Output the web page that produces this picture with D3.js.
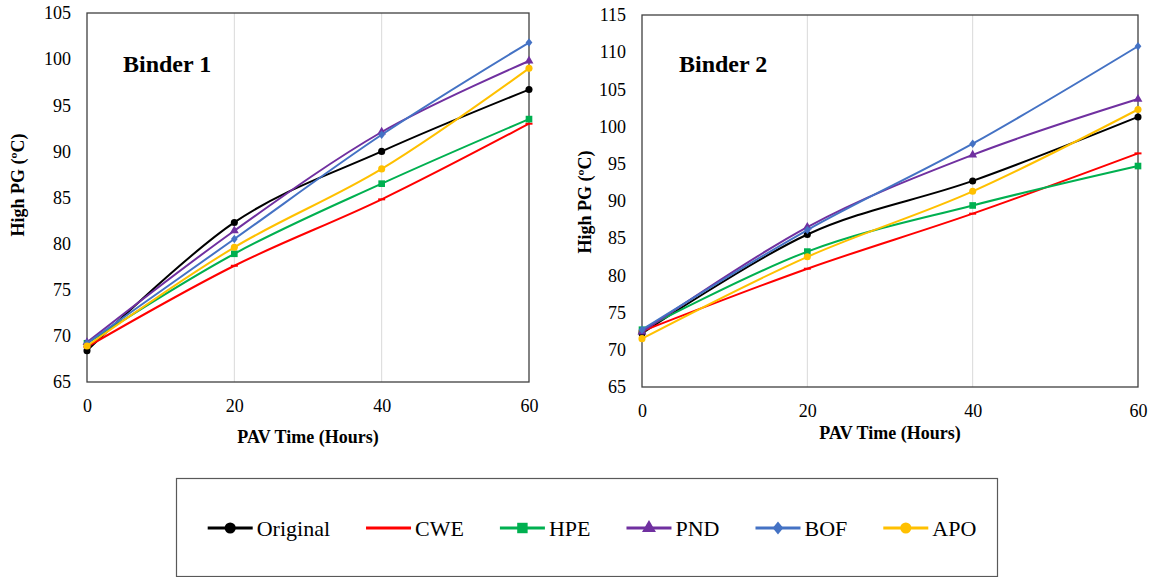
<!DOCTYPE html>
<meta charset="utf-8">
<script src="https://d3js.org/d3.v7.min.js"></script>
<style>
  body { margin: 0; background: #fff; }
</style>
<div id="my_dataviz"></div>
<script>

// data
var hours = [0, 20, 40, 60];
var seriesNames = ["Original", "CWE", "HPE", "PND", "BOF", "APO"];
var seriesColors = ["#000000", "#ff0000", "#00b050", "#7030a0", "#4472c4", "#ffc000"];
var seriesMarkers = ["circle", "dash", "square", "triangle", "diamond", "circle"];

// one row per series, in the order of seriesNames
var binder1Values = [
  [68.4, 82.3, 90.0, 96.7],
  [68.8, 77.6, 84.8, 93.0],
  [69.2, 78.9, 86.5, 93.5],
  [69.3, 81.4, 92.1, 99.8],
  [69.2, 80.5, 91.8, 101.8],
  [68.9, 79.6, 88.1, 99.0]
];
var binder2Values = [
  [72.2, 85.5, 92.7, 101.3],
  [72.5, 80.9, 88.3, 96.4],
  [72.7, 83.2, 89.4, 94.7],
  [72.4, 86.5, 96.2, 103.7],
  [72.7, 86.1, 97.7, 110.8],
  [71.5, 82.5, 91.3, 102.3]
];

var xTicks = [0, 20, 40, 60];
var binder1YTicks = [65, 70, 75, 80, 85, 90, 95, 100, 105];
var binder2YTicks = [65, 70, 75, 80, 85, 90, 95, 100, 105, 110, 115];

var FONT = "'Liberation Serif', 'Times New Roman', serif";

var svg = d3.select("#my_dataviz")
  .append("svg")
    .attr("width", 1158)
    .attr("height", 577);

function markerPath(type, size) {
  if (type == "circle") return d3.symbol().type(d3.symbolCircle).size(size * size * 0.8)();
  if (type == "square") return d3.symbol().type(d3.symbolSquare).size(size * size * 0.9)();
  if (type == "triangle") return d3.symbol().type(d3.symbolTriangle).size(size * size * 0.7)();
  if (type == "diamond") {
    var h = size * 0.6;
    return "M0," + (-h) + "L" + h * 0.8 + ",0L0," + h + "L" + (-h * 0.8) + ",0Z";
  }
  // short flat bar
  return "M" + (-size / 2) + ",-1H" + size / 2 + "V1H" + (-size / 2) + "Z";
}

function drawChart(opt) {
  var g = svg.append("g");

  var x = d3.scaleLinear().domain([0, 60]).range([opt.left, opt.right]);
  var y = d3.scaleLinear().domain(opt.yDomain).range([opt.bottom, opt.top]);

  // vertical gridlines
  g.selectAll(".grid")
    .data(xTicks.slice(1, -1))
    .enter()
    .append("line")
      .attr("x1", function (d) { return x(d); })
      .attr("x2", function (d) { return x(d); })
      .attr("y1", opt.top)
      .attr("y2", opt.bottom)
      .style("stroke", "#d9d9d9")
      .style("stroke-width", 1);

  // frame
  g.append("rect")
    .attr("x", opt.left)
    .attr("y", opt.top)
    .attr("width", opt.right - opt.left)
    .attr("height", opt.bottom - opt.top)
    .style("fill", "none")
    .style("stroke", "#404040")
    .style("stroke-width", 1.3);

  // axes
  var xAxis = g.append("g")
    .attr("transform", "translate(0," + opt.bottom + ")")
    .call(d3.axisBottom(x).tickValues(xTicks).tickSize(0).tickPadding(opt.xPad));
  xAxis.select(".domain").remove();
  xAxis.selectAll("text")
    .style("font-family", FONT)
    .style("font-size", "18px")
    .style("fill", "#000");

  var yAxis = g.append("g")
    .attr("transform", "translate(" + opt.left + ",0)")
    .call(d3.axisLeft(y).tickValues(opt.yTicks).tickSize(0).tickPadding(opt.yPad));
  yAxis.select(".domain").remove();
  yAxis.selectAll("text")
    .style("font-family", FONT)
    .style("font-size", "18px")
    .style("fill", "#000");

  // lines
  var line = d3.line()
    .x(function (d, i) { return x(hours[i]); })
    .y(function (d) { return y(d); })
    .curve(d3.curveCardinal.tension(0));

  opt.values.forEach(function (vals, s) {
    g.append("path")
      .datum(vals)
      .attr("d", line)
      .style("fill", "none")
      .style("stroke", seriesColors[s])
      .style("stroke-width", 2);

    g.selectAll(".m" + s)
      .data(vals)
      .enter()
      .append("path")
        .attr("transform", function (d, i) { return "translate(" + x(hours[i]) + "," + y(d) + ")"; })
        .attr("d", markerPath(seriesMarkers[s], 7))
        .style("fill", seriesColors[s]);
  });

  // titles
  g.append("text")
    .attr("x", opt.titleX)
    .attr("y", 72)
    .text(opt.title)
    .style("font-family", FONT)
    .style("font-weight", "bold")
    .style("font-size", "24px");

  g.append("text")
    .attr("x", (opt.left + opt.right) / 2)
    .attr("y", opt.xTitleY)
    .attr("text-anchor", "middle")
    .text("PAV Time (Hours)")
    .style("font-family", FONT)
    .style("font-weight", "bold")
    .style("font-size", "18px");

  g.append("text")
    .attr("transform", "translate(" + opt.yTitleX + "," + opt.yTitleY + ") rotate(-90)")
    .attr("text-anchor", "middle")
    .text("High PG (ºC)")
    .style("font-family", FONT)
    .style("font-weight", "bold")
    .style("font-size", "18px");
}

drawChart({
  values: binder1Values, yDomain: [65, 105], yTicks: binder1YTicks,
  left: 87, right: 529, top: 13, bottom: 382,
  xPad: 17, yPad: 16, title: "Binder 1", titleX: 123,
  xTitleY: 443, yTitleX: 24, yTitleY: 185
});

drawChart({
  values: binder2Values, yDomain: [65, 115], yTicks: binder2YTicks,
  left: 642, right: 1138, top: 15, bottom: 387,
  xPad: 17, yPad: 16, title: "Binder 2", titleX: 679,
  xTitleY: 439, yTitleX: 591, yTitleY: 202
});

// legend
svg.append("rect")
  .attr("x", 176.5)
  .attr("y", 478.5)
  .attr("width", 821)
  .attr("height", 98)
  .style("fill", "none")
  .style("stroke", "#595959")
  .style("stroke-width", 1.2);

var legend = svg.append("g");
var lx = 0, gap = 36;
seriesNames.forEach(function (name, s) {
  var item = legend.append("g").attr("transform", "translate(" + lx + ",0)");
  item.append("line")
    .attr("x1", 0).attr("x2", 45)
    .attr("y1", 0).attr("y2", 0)
    .style("stroke", seriesColors[s])
    .style("stroke-width", 3);
  item.append("path")
    .attr("transform", "translate(22.5,0)")
    .attr("d", markerPath(seriesMarkers[s], seriesMarkers[s] == "dash" ? 12 : 11))
    .style("fill", seriesColors[s]);
  var t = item.append("text")
    .attr("x", 49)
    .attr("y", 7.5)
    .style("font-family", FONT)
    .style("font-size", "22px")
    .text(name);
  lx += 49 + t.node().getComputedTextLength() + gap;
});
var legendWidth = lx - gap;
legend.attr("transform", "translate(" + (592 - legendWidth / 2) + ",528)");

</script>
